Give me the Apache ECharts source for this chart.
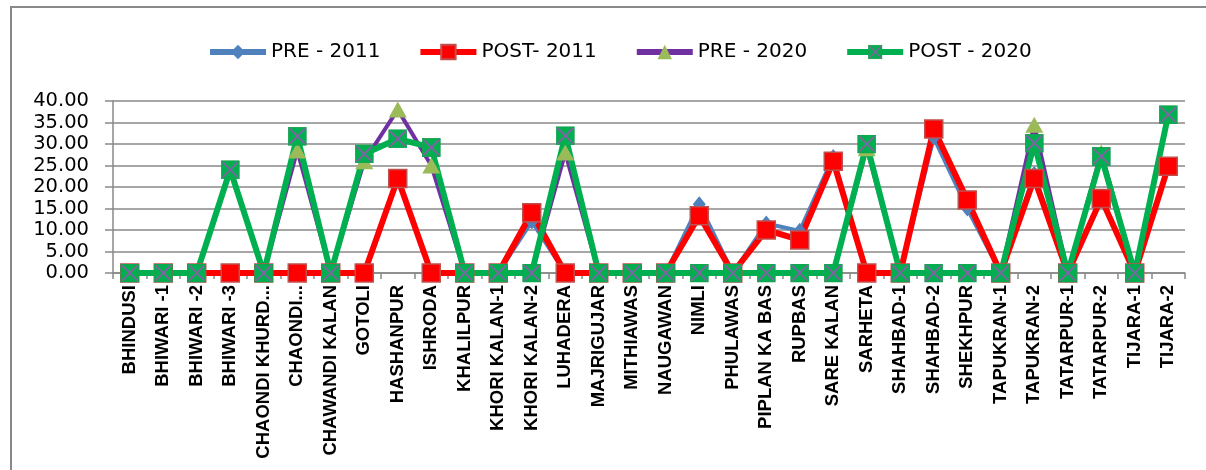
<!DOCTYPE html>
<html>
<head>
<meta charset="utf-8">
<script src="https://cdn.jsdelivr.net/npm/echarts@6/dist/echarts.min.js"></script>
<style>
html,body{margin:0;padding:0;background:#fff;}
#c{width:1206px;height:470px;}
</style>
</head>
<body>
<div id="c"></div>
<script>
const categories = ['BHINDUSI','BHIWARI -1','BHIWARI -2','BHIWARI -3','CHAONDI KHURD...','CHAONDI...','CHAWANDI KALAN','GOTOLI','HASHANPUR','ISHRODA','KHALILPUR','KHORI KALAN-1','KHORI KALAN-2','LUHADERA','MAJRIGUJAR','MITHIAWAS','NAUGAWAN','NIMLI','PHULAWAS','PIPLAN KA BAS','RUPBAS','SARE KALAN','SARHETA','SHAHBAD-1','SHAHBAD-2','SHEKHPUR','TAPUKRAN-1','TAPUKRAN-2','TATARPUR-1','TATARPUR-2','TIJARA-1','TIJARA-2'];
const seriesNames = ['PRE - 2011','POST- 2011','PRE - 2020','POST - 2020'];
const pre2011  = [0,0,0,0,0,0,0,0,22,0,0,0,12,0,0,0,0,16,0,11.5,9.8,27,0,0,31.5,15,0,23,0,17,0,25];
const post2011 = [0,0,0,0,0,0,0,0,22,0,0,0,14,0,0,0,0,13.3,0,10,7.7,26,0,0,33.5,17,0,22,0,17.3,0,24.8];
const pre2020  = [0,0,0,24,0,28.5,0,26,38,25,0,0,0,28,0,0,0,0,0,0,0,0,29,0,0,0,0,34.5,0,28,0,37];
const post2020 = [0,0,0,24,0,31.8,0,27.7,31.2,29.2,0,0,0,31.9,0,0,0,0,0,0,0,0,30,0,0,0,0,30.2,0,27.1,0,36.8];
const yTicks = {min:0, max:40, interval:5};

const greenSvg = "<svg xmlns='http://www.w3.org/2000/svg' width='40' height='40'><rect x='1' y='1' width='38' height='38' fill='#00B050' stroke='#1E9E50' stroke-width='2'/><path d='M4 4L36 36M36 4L4 36' stroke='#8064A2' stroke-width='4'/></svg>";
const greenSymbol = 'image://data:image/svg+xml;charset=utf-8,' + encodeURIComponent(greenSvg);

const grey = '#898989';
const chart = echarts.init(document.getElementById('c'), null, {renderer:'canvas'});
chart.setOption({
  animation:false,
  backgroundColor:'#fff',
  graphic:[{type:'rect', shape:{x:11,y:7,width:1300,height:600}, style:{fill:'none', stroke:grey, lineWidth:2}, silent:true}],
  legend:{
    data:seriesNames, left:202, top:37, itemWidth:56, itemHeight:18, itemGap:37,
    lineStyle:{width:6},
    textStyle:{fontFamily:'DejaVu Sans', fontSize:20, color:'#000'}
  },
  grid:{left:113, right:21, top:101, bottom:197, containLabel:false},
  xAxis:{
    type:'category', data:categories, boundaryGap:true,
    axisLine:{lineStyle:{color:grey, width:1.5}},
    axisTick:{show:true, length:6, lineStyle:{color:grey, width:1.5}},
    axisLabel:{interval:0, rotate:90, margin:12, fontFamily:'Liberation Sans', fontWeight:'bold', fontSize:18.5, color:'#000'}
  },
  yAxis:{
    type:'value', min:yTicks.min, max:yTicks.max, interval:yTicks.interval,
    axisLine:{show:true, lineStyle:{color:grey, width:1.5}},
    axisTick:{show:true, length:8, lineStyle:{color:grey, width:1.5}},
    splitLine:{lineStyle:{color:grey, width:1.5}},
    axisLabel:{margin:24, fontFamily:'DejaVu Sans', fontSize:19.5, color:'#000', formatter:v=>v.toFixed(2)}
  },
  series:[
    {name:seriesNames[0], type:'line', data:pre2011, symbol:'diamond', symbolSize:[13,16],
      itemStyle:{color:'#4F81BD'}, lineStyle:{color:'#4F81BD', width:4}},
    {name:seriesNames[1], type:'line', data:post2011, symbol:'rect', symbolSize:18,
      itemStyle:{color:'#FF0000', borderColor:'#C0504D', borderWidth:1.5}, lineStyle:{color:'#FF0000', width:6}},
    {name:seriesNames[2], type:'line', data:pre2020, symbol:'triangle', symbolSize:[18,16],
      itemStyle:{color:'#9BBB59'}, lineStyle:{color:'#7030A0', width:4}},
    {name:seriesNames[3], type:'line', data:post2020, symbol:greenSymbol, symbolSize:19,
      itemStyle:{color:'#00B050'}, lineStyle:{color:'#00B050', width:6}}
  ]
});
</script>
</body>
</html>
